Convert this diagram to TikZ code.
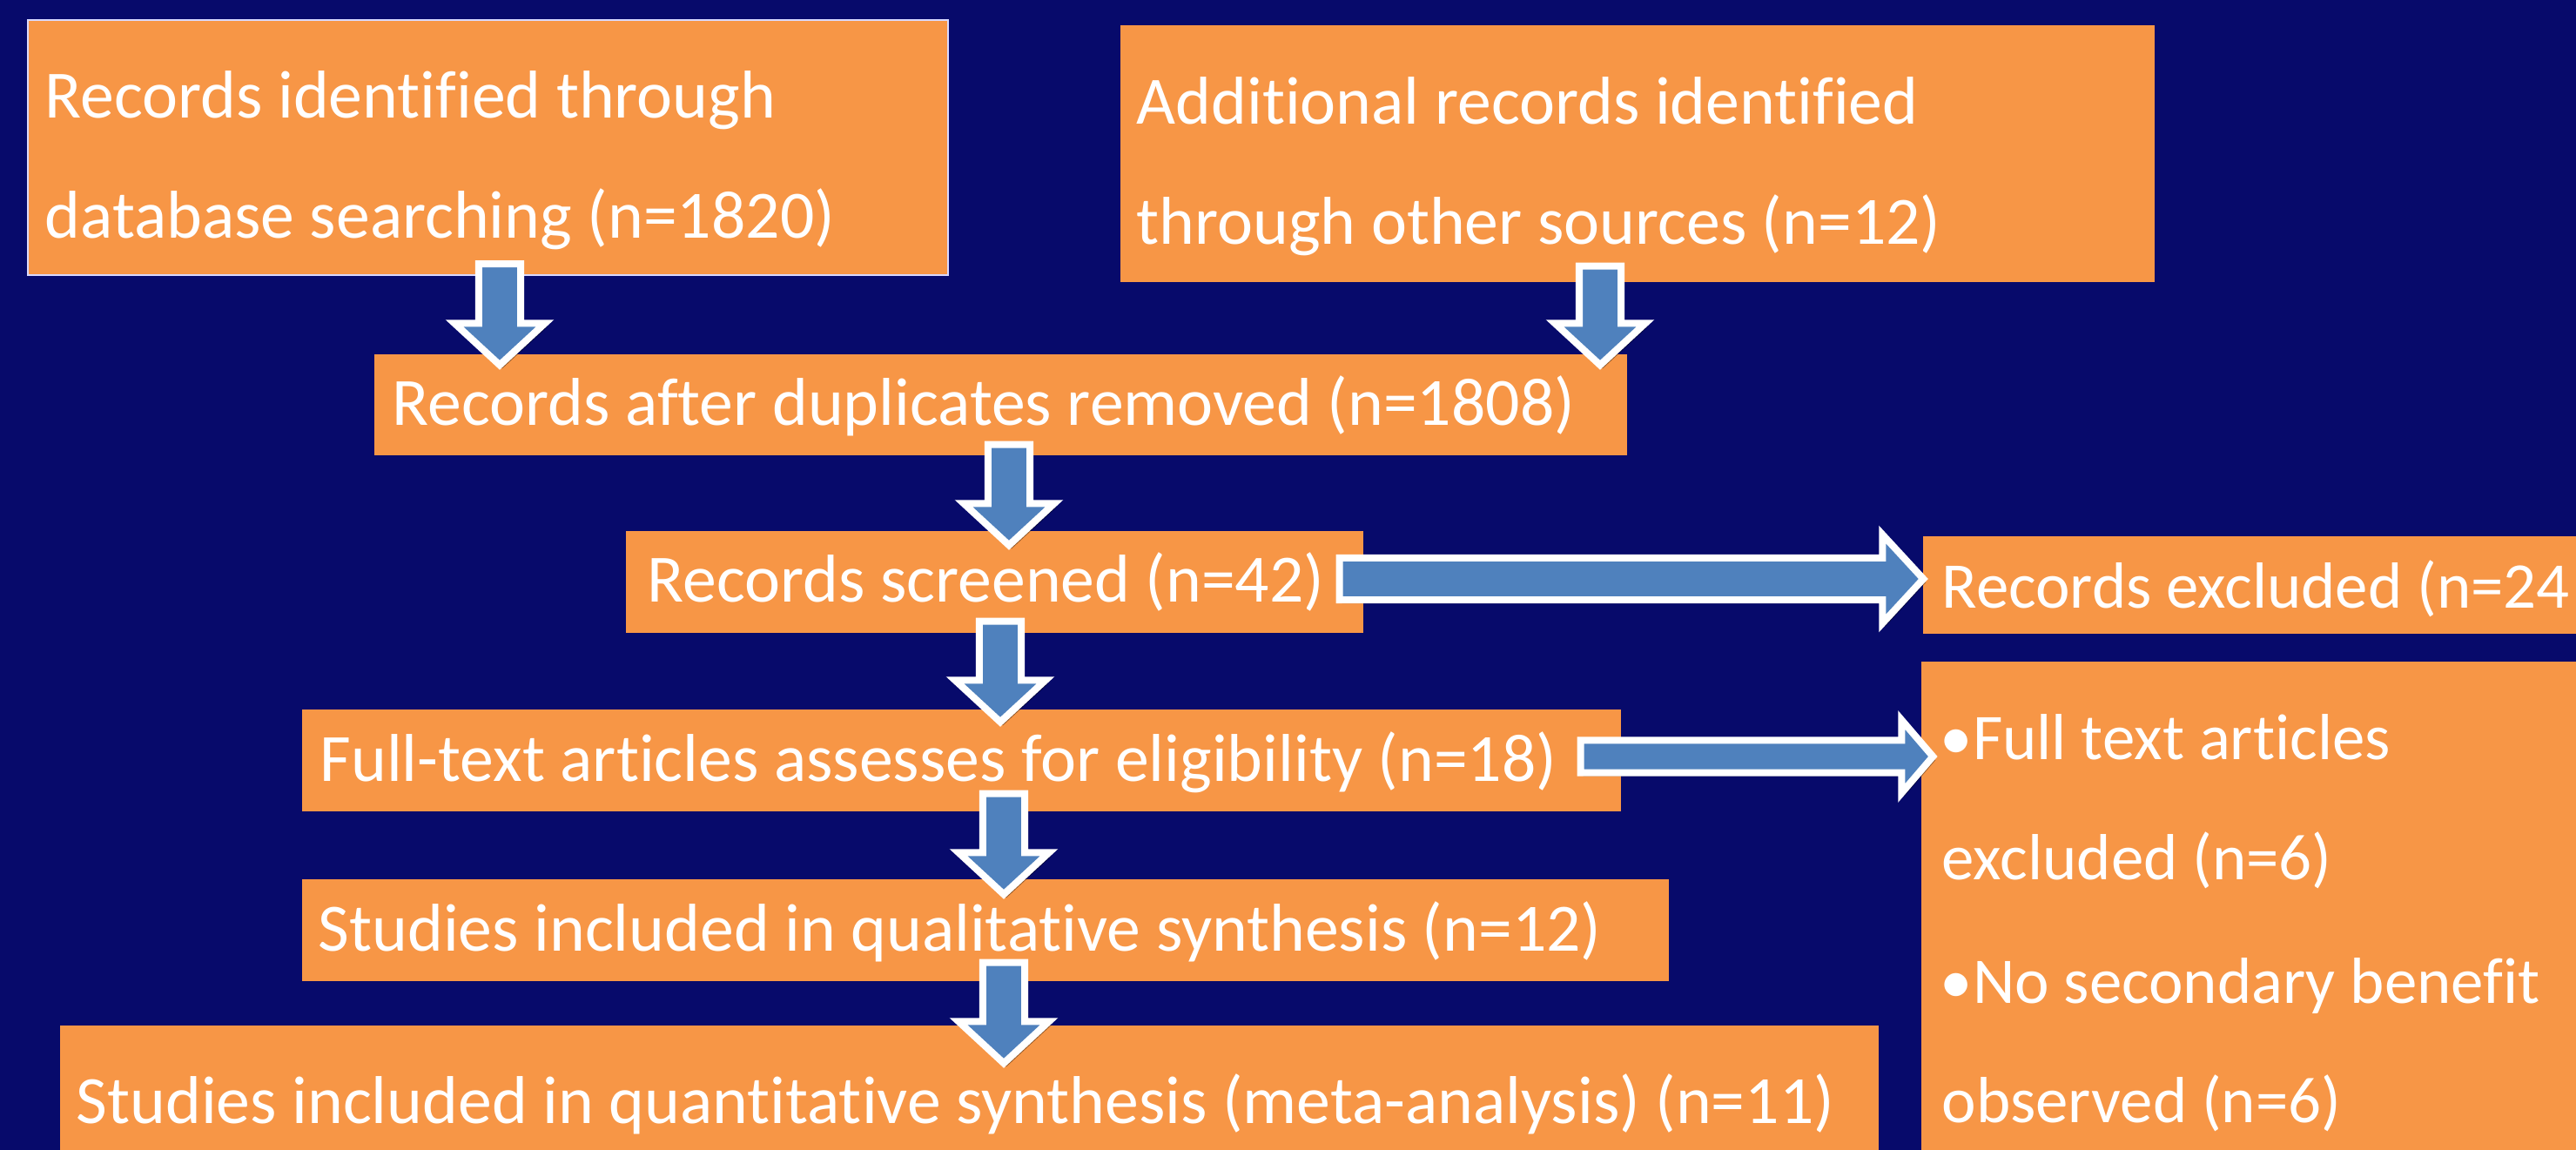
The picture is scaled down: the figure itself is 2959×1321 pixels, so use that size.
\documentclass[tikz,border=0pt]{standalone}
\usepackage{fontspec}
\setmainfont{Carlito}[Ligatures=NoCommon]
\usetikzlibrary{calc,fit,shadows}
\definecolor{bgnavy}{RGB}{7,10,107}
\definecolor{boxorange}{RGB}{247,150,70}
\definecolor{arrowblue}{RGB}{79,129,189}
\tikzset{
  box/.style={fill=boxorange, inner sep=0pt},
  txt/.style={anchor=base west, inner sep=0pt, text=white, font=\fontsize{22.1}{26}\selectfont},
  rtxt/.style={txt, font=\fontsize{21.3}{26}\selectfont},
  barrow/.style={fill=arrowblue, draw=white, line width=0.08cm, line join=miter,
    drop shadow={opacity=0.4, shadow xshift=0.03cm, shadow yshift=-0.04cm, fill=black}},
}
% down block arrow: #1 x, #2 source node, #3 start inside source, #4 target node, #5 tip inside target,
% #6 half shaft, #7 half head, #8 head length
\newcommand\blkdown[8]{%
  \draw[barrow] let \p1=($(#1,0 |- #2.south)+(0,-#3)$), \p2=($(#1,0 |- #4.north)+(0,#5)$) in
    ({\x1-#6},\y1) -- ({\x1+#6},\y1) -- ({\x1+#6},{\y2+#8}) -- ({\x1+#7},{\y2+#8})
    -- (\x1,\y2) -- ({\x1-#7},{\y2+#8}) -- ({\x1-#6},{\y2+#8}) -- cycle;}
% right block arrow: #1 y, #2 source, #3 start inside source, #4 target, #5 tip inside target
\newcommand\blkright[8]{%
  \draw[barrow] let \p1=($(#2.east |- 0,#1)+(-#3,0)$), \p2=($(#4.west |- 0,#1)+(#5,0)$) in
    (\x1,{\y1+#6}) -- ({\x2-#8},{\y1+#6}) -- ({\x2-#8},{\y1+#7}) -- (\x2,\y1)
    -- ({\x2-#8},{\y1-#7}) -- ({\x2-#8},{\y1-#6}) -- (\x1,{\y1-#6}) -- cycle;}
\begin{document}
\begin{tikzpicture}[x=0.01cm,y=-0.01cm]
\fill[bgnavy] (0,0) rectangle (2959,1321);
\useasboundingbox (0,0) rectangle (2959,1321);

% boxes
\node[box, draw=white!85!blue, line width=0.02cm, fit={(32,23)(1089,316)}] (b1) {};
\node[box, fit={(1287,29)(2475,324)}] (b2) {};
\node[box, fit={(430,407)(1869,523)}] (b3) {};
\node[box, fit={(719,610)(1566,727)}] (b4) {};
\node[box, fit={(347,815)(1862,932)}] (b5) {};
\node[box, fit={(347,1010)(1917,1127)}] (b6) {};
\node[box, fit={(69,1178)(2158,1321)}] (b7) {};
\node[box, fit={(2209,616)(2959,728)}] (b8) {};
\node[box, fit={(2207,760)(2959,1321)}] (b9) {};

% texts
\node[txt] (t1a) at (51,135) {Records identified through};
\node[txt] (t1b) at (51,273) {database searching (n=1820)};
\node[txt] (t2a) at (1305,143) {Additional records identified};
\node[txt] (t2b) at (1305,280) {through other sources (n=12)};
\node[txt] (t3) at (450,488) {Records after duplicates removed (n=1808)};
\node[txt] (t4) at (743,691) {Records screened (n=42)};
\node[txt] (t5) at (367,897) {Full-text articles assesses for eligibility (n=18)};
\node[txt] (t6) at (365,1092) {Studies included in qualitative synthesis (n=12)};
\node[txt] (t7) at (87,1290) {Studies included in quantitative synthesis (meta-analysis) (n=11)};
\node[rtxt] (t8) at (2230,698) {Records excluded (n=24};
\node[rtxt] (t9a) at (2228,872) {•Full text articles};
\node[rtxt] (t9b) at (2230,1010) {excluded (n=6)};
\node[rtxt] (t9c) at (2228,1152) {•No secondary benefit};
\node[rtxt] (t9d) at (2230,1289) {observed (n=6)};

% arrows
\blkdown{574}{b1}{14}{b3}{13}{0.24cm}{0.52cm}{0.48cm}
\blkdown{1838}{b2}{19}{b3}{13}{0.24cm}{0.52cm}{0.48cm}
\blkdown{1159}{b3}{13}{b4}{17}{0.24cm}{0.52cm}{0.48cm}
\blkdown{1149}{b4}{14}{b5}{15}{0.24cm}{0.52cm}{0.48cm}
\blkdown{1153}{b5}{21}{b6}{18}{0.24cm}{0.52cm}{0.48cm}
\blkdown{1153}{b6}{22}{b7}{44}{0.24cm}{0.52cm}{0.48cm}
\blkright{665}{b4}{28}{b8}{1}{0.24cm}{0.51cm}{0.47cm}
\blkright{869}{b5}{47}{b9}{14}{0.185cm}{0.42cm}{0.36cm}
\end{tikzpicture}
\end{document}
